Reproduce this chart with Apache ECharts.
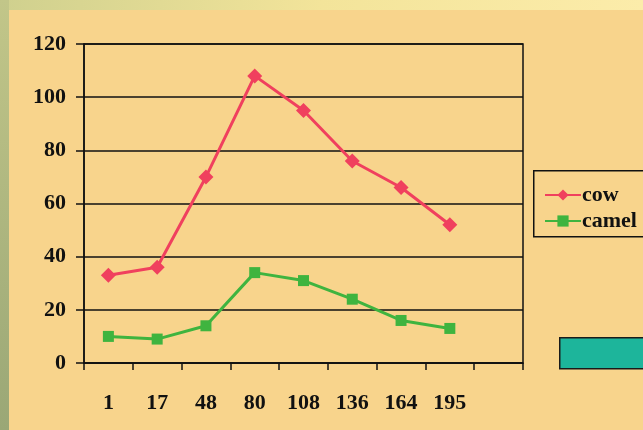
<!DOCTYPE html>
<html>
<head>
<meta charset="utf-8">
<script src="https://cdn.jsdelivr.net/npm/echarts@6/dist/echarts.min.js"></script>
<style>
  html, body { margin: 0; padding: 0; background: #f8d48c; }
  #chart { width: 643px; height: 430px; }
</style>
</head>
<body>
<div id="chart"></div>
<script>
// Sampling days along the x axis (last slot left empty)
const days = ['1', '17', '48', '80', '108', '136', '164', '195', ''];
// Measured values per species
const cow = [33, 36, 70, 108, 95, 76, 66, 52];
const camel = [10, 9, 14, 34, 31, 24, 16, 13];
// Value axis range
const yMin = 0, yMax = 120, yStep = 20;

const font = '"Liberation Serif", "Times New Roman", serif';
const ink = '#111';

const chart = echarts.init(document.getElementById('chart'), null, { renderer: 'canvas' });
chart.setOption({
  backgroundColor: '#f8d48c',
  animation: false,
  grid: {
    left: 84, right: 120, top: 44, bottom: 67,
    show: true, borderColor: ink, borderWidth: 1.5, backgroundColor: 'transparent'
  },
  graphic: [
    // faded strips along the top and left edges
    { type: 'rect', left: 0, top: 0, shape: { width: 643, height: 10 },
      style: { fill: new echarts.graphic.LinearGradient(0, 0, 1, 0, [
        { offset: 0, color: '#cfd08e' }, { offset: 0.5, color: '#f3e49a' }, { offset: 1, color: '#fcecaa' }]) }, z: -1 },
    { type: 'rect', left: 0, top: 0, shape: { width: 9, height: 430 },
      style: { fill: new echarts.graphic.LinearGradient(0, 0, 0, 1, [
        { offset: 0, color: '#c2c689' }, { offset: 1, color: '#9aa776' }]) }, z: -1 },
    // legend frame
    { type: 'rect', left: 533, top: 170, shape: { width: 140, height: 66 },
      style: { fill: 'transparent', stroke: ink, lineWidth: 1.5 }, z: 5 },
    // teal block at lower right
    { type: 'rect', left: 559, top: 337, shape: { width: 120, height: 31 },
      style: { fill: '#1db59b', stroke: '#1a1a1a', lineWidth: 1.5 }, z: 5 }
  ],
  legend: {
    orient: 'vertical',
    left: 539, top: 179,
    itemWidth: 36, itemHeight: 14, itemGap: 4,
    textStyle: { fontFamily: font, fontWeight: 'bold', fontSize: 22, color: ink, padding: [0, 0, 0, -4] },
    data: ['cow', 'camel']
  },
  xAxis: {
    type: 'category',
    data: days,
    boundaryGap: true,
    axisLine: { lineStyle: { color: ink, width: 1.5 } },
    axisTick: { show: true, length: 7, alignWithLabel: false, lineStyle: { color: ink, width: 1.5 } },
    axisLabel: { color: ink, fontFamily: font, fontWeight: 'bold', fontSize: 22, margin: 29 },
    splitLine: { show: false }
  },
  yAxis: {
    type: 'value',
    min: yMin, max: yMax, interval: yStep,
    axisLine: { show: true, lineStyle: { color: ink, width: 1.5 } },
    axisTick: { show: true, length: 8, lineStyle: { color: ink, width: 1.5 } },
    axisLabel: { color: ink, fontFamily: font, fontWeight: 'bold', fontSize: 22, margin: 18 },
    splitLine: { show: true, lineStyle: { color: ink, width: 1.5 } }
  },
  series: [
    {
      name: 'cow', type: 'line', data: cow,
      symbol: 'diamond', symbolSize: 15,
      itemStyle: { color: '#f0405e' },
      lineStyle: { color: '#f0405e', width: 3 },
      z: 3
    },
    {
      name: 'camel', type: 'line', data: camel,
      symbol: 'rect', symbolSize: 11,
      itemStyle: { color: '#3fb43f' },
      lineStyle: { color: '#3fb43f', width: 3 },
      z: 3
    }
  ]
});
</script>
</body>
</html>
